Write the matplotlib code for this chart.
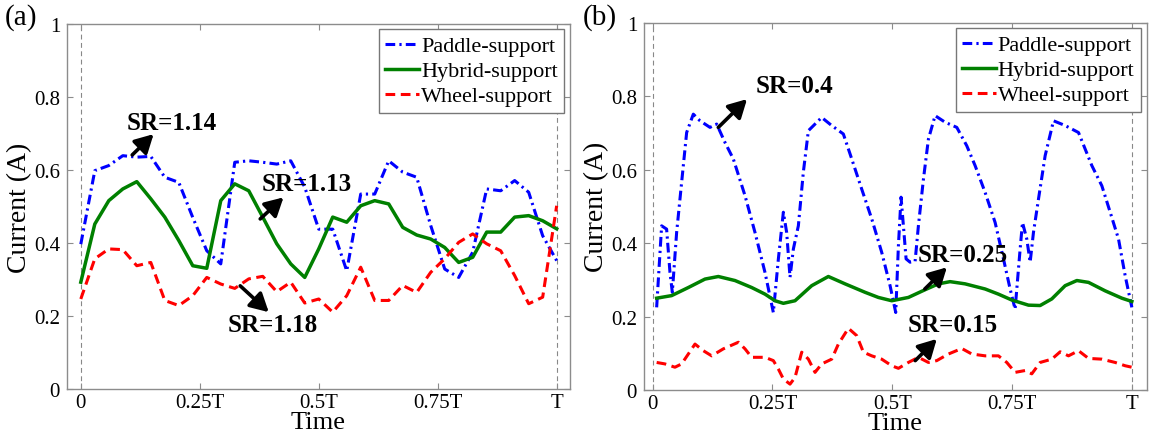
import matplotlib
matplotlib.use("Agg")
import matplotlib.pyplot as plt
import numpy as np

plt.rcParams["font.family"] = ["Liberation Serif", "DejaVu Serif"]
plt.rcParams["lines.scale_dashes"] = False
plt.rcParams["mathtext.default"] = "regular"

# ---------------- (a) sampled over one period, 35 samples ----------------
t_a = np.arange(35) / 34.0
paddle_a = [0.397, 0.598, 0.612, 0.639, 0.635, 0.637, 0.580, 0.566, 0.470, 0.379,
            0.343, 0.621, 0.625, 0.621, 0.616, 0.625, 0.553, 0.438, 0.438, 0.324,
            0.534, 0.534, 0.625, 0.594, 0.580, 0.448, 0.329, 0.306, 0.375, 0.548,
            0.543, 0.571, 0.539, 0.420, 0.352]
hybrid_a = [0.293, 0.452, 0.516, 0.548, 0.568, 0.521, 0.471, 0.407, 0.338, 0.331,
            0.516, 0.562, 0.543, 0.471, 0.398, 0.343, 0.306, 0.384, 0.471, 0.457,
            0.502, 0.516, 0.507, 0.443, 0.422, 0.411, 0.388, 0.347, 0.361, 0.430,
            0.430, 0.471, 0.475, 0.461, 0.439]
wheel_a = [0.247, 0.357, 0.384, 0.382, 0.338, 0.347, 0.243, 0.229, 0.256, 0.306,
           0.288, 0.276, 0.302, 0.309, 0.267, 0.293, 0.236, 0.247, 0.211, 0.256,
           0.334, 0.243, 0.243, 0.284, 0.265, 0.320, 0.357, 0.402, 0.425, 0.398,
           0.379, 0.311, 0.234, 0.252, 0.502]

# ---------------- (b) ----------------
t_pad_b = [0.0084, 0.0188, 0.0292, 0.0362, 0.0411, 0.0501, 0.0605, 0.0710, 0.0849, 0.0988,
           0.1197, 0.1336, 0.1510, 0.1684, 0.1928, 0.2136, 0.2345, 0.2519, 0.2624, 0.2728,
           0.2797, 0.2867, 0.2937, 0.3041, 0.3145, 0.3250, 0.3389, 0.3528, 0.3737, 0.3980,
           0.4155, 0.4363, 0.4572, 0.4780, 0.4955, 0.5073, 0.5129, 0.5184, 0.5233, 0.5289,
           0.5372, 0.5477, 0.5546, 0.5651, 0.5755, 0.5894, 0.6103, 0.6347, 0.6555, 0.6729,
           0.6938, 0.7147, 0.7321, 0.7460, 0.7564, 0.7669, 0.7718, 0.7808, 0.7878, 0.7947,
           0.8052, 0.8191, 0.8365, 0.8608, 0.8887, 0.9026, 0.9165, 0.9374, 0.9548, 0.9722,
           0.9861, 1.0000]
paddle_b = [0.225, 0.447, 0.438, 0.320, 0.266, 0.429, 0.565, 0.701, 0.751, 0.733,
            0.715, 0.724, 0.674, 0.629, 0.529, 0.429, 0.320, 0.211, 0.357, 0.484,
            0.429, 0.307, 0.384, 0.447, 0.593, 0.706, 0.724, 0.742, 0.720, 0.697,
            0.629, 0.547, 0.466, 0.375, 0.284, 0.211, 0.393, 0.525, 0.447, 0.357,
            0.348, 0.350, 0.447, 0.574, 0.683, 0.747, 0.729, 0.715, 0.665, 0.611,
            0.538, 0.456, 0.357, 0.275, 0.220, 0.384, 0.456, 0.411, 0.348, 0.429,
            0.520, 0.638, 0.733, 0.720, 0.701, 0.656, 0.611, 0.556, 0.484, 0.411,
            0.311, 0.225]

t_hyb_b = [0.0084, 0.0397, 0.0745, 0.1093, 0.1371, 0.1719, 0.2067, 0.2345, 0.2554, 0.2728,
           0.2971, 0.3319, 0.3667, 0.4015, 0.4433, 0.4711, 0.4990, 0.5337, 0.5685, 0.5964,
           0.6207, 0.6520, 0.6938, 0.7216, 0.7495, 0.7843, 0.8086, 0.8330, 0.8608, 0.8852,
           0.9096, 0.9443, 0.9791, 1.0000]
hybrid_b = [0.250, 0.257, 0.279, 0.302, 0.309, 0.298, 0.279, 0.261, 0.243, 0.236,
            0.243, 0.284, 0.309, 0.289, 0.266, 0.252, 0.243, 0.252, 0.273, 0.289,
            0.295, 0.289, 0.275, 0.261, 0.245, 0.231, 0.230, 0.248, 0.284, 0.298,
            0.293, 0.270, 0.250, 0.241]

t_whl_b = [0.0084, 0.0257, 0.0466, 0.0605, 0.0745, 0.0884, 0.1058, 0.1232, 0.1475, 0.1789,
           0.1928, 0.2067, 0.2345, 0.2519, 0.2624, 0.2728, 0.2867, 0.2971, 0.3111, 0.3250,
           0.3389, 0.3528, 0.3737, 0.3876, 0.4085, 0.4259, 0.4398, 0.4572, 0.4780, 0.4990,
           0.5129, 0.5337, 0.5546, 0.5755, 0.5929, 0.6173, 0.6451, 0.6660, 0.6938, 0.7216,
           0.7390, 0.7564, 0.7773, 0.7912, 0.8086, 0.8330, 0.8504, 0.8678, 0.8887, 0.9096,
           0.9374, 0.9652, 0.9861, 1.0000]
wheel_b = [0.075, 0.071, 0.062, 0.071, 0.098, 0.125, 0.107, 0.093, 0.112, 0.130,
           0.112, 0.089, 0.089, 0.080, 0.057, 0.030, 0.016, 0.034, 0.103, 0.084,
           0.048, 0.071, 0.084, 0.125, 0.168, 0.148, 0.103, 0.093, 0.084, 0.066,
           0.059, 0.075, 0.089, 0.075, 0.080, 0.098, 0.113, 0.098, 0.093, 0.093,
           0.075, 0.048, 0.053, 0.044, 0.075, 0.084, 0.104, 0.093, 0.107, 0.086,
           0.084, 0.075, 0.066, 0.062]

x_ticks = [0, 0.25, 0.5, 0.75, 1.0]
x_ticklabels = ["0", "0.25T", "0.5T", "0.75T", "T"]
y_ticks = [0, 0.2, 0.4, 0.6, 0.8, 1.0]
y_ticklabels = ["0", "0.2", "0.4", "0.6", "0.8", "1"]
legend_labels = ["Paddle-support", "Hybrid-support", "Wheel-support"]

# SR annotations: (text, text position, arrow tail, arrow head)
notes_a = [("SR=1.14", (0.191, 0.731), (0.108, 0.641), (0.153, 0.698)),
           ("SR=1.13", (0.475, 0.562), (0.377, 0.466), (0.426, 0.525)),
           ("SR=1.18", (0.404, 0.176), (0.335, 0.283), (0.395, 0.211))]
notes_b = [("SR=0.4", (0.297, 0.830), (0.137, 0.715), (0.197, 0.792)),
           ("SR=0.25", (0.648, 0.368), (0.568, 0.275), (0.614, 0.334)),
           ("SR=0.15", (0.627, 0.177), (0.548, 0.080), (0.593, 0.139))]

BLUE = "#0000ff"
GREEN = "#008000"
RED = "#ff0000"
SPINE = "#8c8c8c"
LW = 2.2

fig = plt.figure(figsize=(11.5, 4.39), dpi=100)
ax_a = fig.add_axes([67 / 1150, 1 - 390.3 / 439, (570 - 67) / 1150, (390.3 - 24.7) / 439])
ax_b = fig.add_axes([644 / 1150, 1 - 391 / 439, (1146.7 - 644) / 1150, (391 - 23.7) / 439])


def style_axes(ax, xlim):
    ax.set_xlim(*xlim)
    ax.set_ylim(0, 1)
    ax.set_xticks(x_ticks)
    ax.set_xticklabels(x_ticklabels)
    ax.set_yticks(y_ticks)
    ax.set_yticklabels(y_ticklabels)
    ax.tick_params(direction="in", length=4, width=0.8, color=SPINE,
                   top=True, right=True, labelsize=15, pad=5)
    ax.tick_params(axis="x", pad=3)
    for s in ax.spines.values():
        s.set_color(SPINE)
        s.set_linewidth(1.0)
    for xv in (0.0, 1.0):
        ax.axvline(xv, color="#888888", lw=0.8, ls=(0, (3.5, 2.5)), zorder=1)
    ax.set_xlabel("Time", fontsize=19, labelpad=-1)
    ax.set_ylabel("Current (A)", fontsize=20, labelpad=1)


def draw_notes(ax, notes):
    for text, txy, tail, head in notes:
        ax.text(txy[0], txy[1], text, fontsize=18, fontweight="bold",
                ha="center", va="center", zorder=6)
        ax.annotate("", xy=head, xytext=tail,
                    arrowprops=dict(arrowstyle="-|>,head_length=0.55,head_width=0.3",
                                    lw=2.6, color="black", mutation_scale=20,
                                    shrinkA=0, shrinkB=0), zorder=6)


def draw_legend(ax):
    leg = ax.legend(legend_labels, loc="upper right", fontsize=16,
                    handlelength=1.5, handletextpad=0.1, borderpad=0.3,
                    labelspacing=0.2, borderaxespad=0.25, fancybox=False,
                    framealpha=1.0, edgecolor="#777777")
    leg.get_frame().set_linewidth(1.0)


# panel (a)
ax_a.plot(t_a, paddle_a, color=BLUE, lw=LW, ls=(0, (7, 3, 1.6, 3)), zorder=3)
ax_a.plot(t_a, hybrid_a, color=GREEN, lw=LW + 0.3, ls="-", zorder=3)
ax_a.plot(t_a, wheel_a, color=RED, lw=LW, ls=(0, (7, 4)), zorder=3)
style_axes(ax_a, (-0.029, 1.028))
draw_notes(ax_a, notes_a)
draw_legend(ax_a)

# panel (b)
ax_b.plot(t_pad_b, paddle_b, color=BLUE, lw=LW, ls=(0, (7, 3, 1.6, 3)), zorder=3)
ax_b.plot(t_hyb_b, hybrid_b, color=GREEN, lw=LW + 0.3, ls="-", zorder=3)
ax_b.plot(t_whl_b, wheel_b, color=RED, lw=LW, ls=(0, (7, 4)), zorder=3)
style_axes(ax_b, (-0.018, 1.031))
draw_notes(ax_b, notes_b)
draw_legend(ax_b)

fig.text(5 / 1150, 1 - 18 / 439, "(a)", fontsize=21, ha="left", va="center")
fig.text(583 / 1150, 1 - 18 / 439, "(b)", fontsize=21, ha="left", va="center")

fig.savefig("out.png", dpi=100)
